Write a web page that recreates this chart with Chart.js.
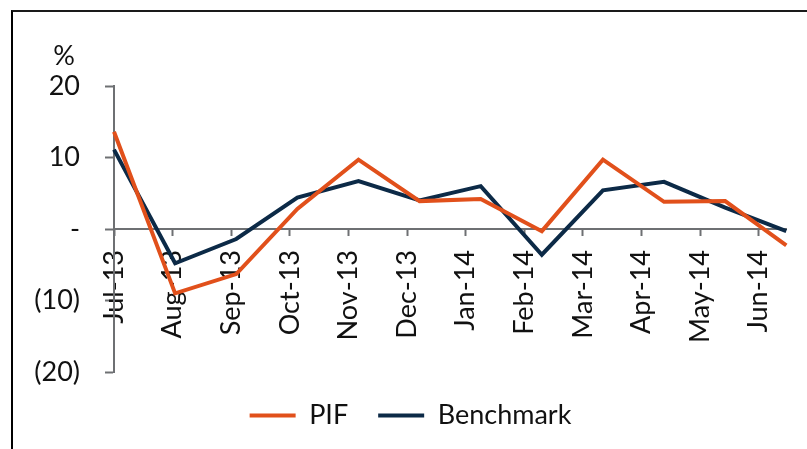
<!DOCTYPE html>
<html>
<head>
<meta charset="utf-8">
<script src="https://cdn.jsdelivr.net/npm/chart.js@4"></script>
<style>
    html, body { margin: 0; padding: 0; background: #ffffff; overflow: hidden; }
    #frame {
        position: absolute; left: 11px; top: 10px; width: 900px; height: 500px;
        border-left: 2px solid #000000; border-top: 2px solid #1a1a1a;
    }
    #wrap { position: absolute; left: 0; top: 0; width: 807px; height: 449px; }
</style>
</head>
<body>
<div id="frame"></div>
<div id="wrap"><canvas id="chart" width="807" height="449"></canvas></div>
<script>
const months = ["Jul-13", "Aug-13", "Sep-13", "Oct-13", "Nov-13", "Dec-13",
                "Jan-14", "Feb-14", "Mar-14", "Apr-14", "May-14", "Jun-14"];
const pif = [13.6, -9.0, -6.3, 2.8, 9.7, 3.9, 4.2, -0.3, 9.7, 3.8, 3.9, -2.3];
const benchmark = [11.1, -4.8, -1.4, 4.4, 6.7, 4.0, 6.0, -3.6, 5.4, 6.6, 3.0, -0.3];
const yTicks = [-20, -10, 0, 10, 20];

const FONT = "Lato";
const AXIS_GREY = "#6e7073";
const ORANGE = "#e1501b";
const NAVY = "#0c2a47";

// "%" unit label above the value axis
const unitLabel = {
    id: "unitLabel",
    afterDraw(chart) {
        const ctx = chart.ctx;
        const y = chart.scales.y;
        ctx.save();
        ctx.font = "27px " + FONT;
        ctx.fillStyle = "#111111";
        ctx.textAlign = "center";
        ctx.textBaseline = "middle";
        ctx.fillText("%", chart.chartArea.left - 50, y.top - 30);
        ctx.restore();
    },
};

const config = {
    type: "line",
    data: {
        labels: months,
        datasets: [
            {
                label: "PIF",
                data: pif,
                borderColor: ORANGE,
                backgroundColor: ORANGE,
                borderWidth: 4,
                pointRadius: 0,
                tension: 0,
                xAxisID: "x",
            },
            {
                label: "Benchmark",
                data: benchmark,
                borderColor: NAVY,
                backgroundColor: NAVY,
                borderWidth: 4,
                pointRadius: 0,
                tension: 0,
                xAxisID: "x",
            },
        ],
    },
    options: {
        responsive: false,
        animation: false,
        layout: {
            padding: { left: 28, right: 14, top: 86, bottom: 10 },
        },
        plugins: {
            tooltip: { enabled: false },
            legend: {
                position: "bottom",
                labels: {
                    boxWidth: 46,
                    boxHeight: 4,
                    padding: 30,
                    color: "#111111",
                    font: { family: FONT, size: 27 },
                    generateLabels: (chart) => {
                        return chart.data.datasets.map((dataset, index) => ({
                            text: dataset.label,
                            fillStyle: dataset.borderColor,
                            strokeStyle: dataset.borderColor,
                            lineWidth: 0,
                            fontColor: "#111111",
                            hidden: false,
                            datasetIndex: index,
                        }));
                    },
                },
            },
        },
        scales: {
            x: {
                type: "category",
                display: false,
                offset: false,
            },
            xt: {
                type: "linear",
                axis: "x",
                position: { y: 0 },
                min: 0,
                max: 11.47,
                grid: {
                    drawOnChartArea: false,
                    drawTicks: true,
                    tickLength: 6,
                    tickWidth: 2,
                    tickColor: AXIS_GREY,
                },
                border: { color: AXIS_GREY, width: 2 },
                ticks: {
                    stepSize: 1,
                    includeBounds: false,
                    autoSkip: false,
                    minRotation: 90,
                    maxRotation: 90,
                    padding: 15,
                    color: "#111111",
                    font: { family: FONT, size: 27 },
                    callback: (value) => months[value] ?? "",
                },
            },
            y: {
                position: "left",
                min: -20,
                max: 20,
                afterFit: (scale) => { scale.width = 86; },
                afterBuildTicks: (scale) => {
                    scale.ticks = yTicks.map((v) => ({ value: v }));
                },
                grid: {
                    drawOnChartArea: false,
                    drawTicks: true,
                    tickLength: 9,
                    tickWidth: 2,
                    tickColor: AXIS_GREY,
                },
                border: { color: AXIS_GREY, width: 2 },
                ticks: {
                    padding: 25,
                    color: "#111111",
                    font: { family: FONT, size: 27 },
                    callback: (value) => {
                        if (value === 0) return "-";
                        if (value < 0) return "(" + Math.abs(value) + ")";
                        return String(value);
                    },
                },
            },
        },
    },
    plugins: [unitLabel],
};

new Chart(document.getElementById("chart"), config);
</script>
</body>
</html>
